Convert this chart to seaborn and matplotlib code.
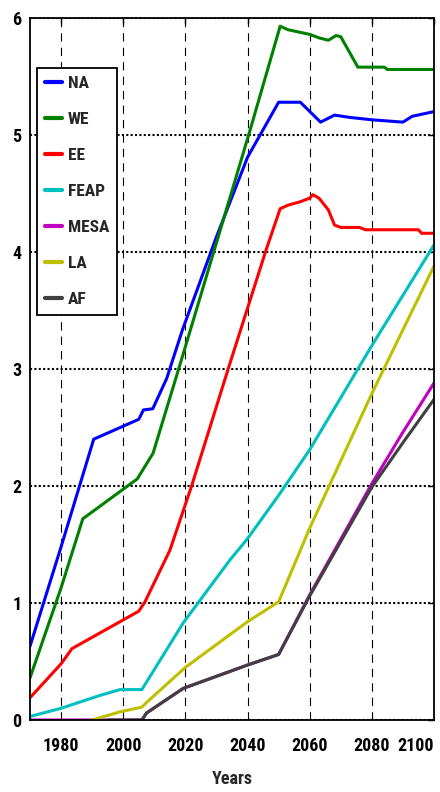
import numpy as np
import pandas as pd
import matplotlib
matplotlib.use('Agg')
import matplotlib.pyplot as plt
import seaborn as sns

# per-region curves (year breakpoints + value)
na_years = [1970, 1980, 1990.5, 2005, 2006.5, 2009.5, 2014, 2019, 2030, 2040, 2050, 2057, 2063.5, 2068, 2073, 2080, 2090, 2093, 2100]
na_vals = [0.63, 1.48, 2.40, 2.57, 2.65, 2.66, 2.92, 3.33, 4.13, 4.81, 5.28, 5.28, 5.11, 5.17, 5.15, 5.13, 5.11, 5.16, 5.20]

we_years = [1970, 1980, 1987, 2004.5, 2009.6, 2019.2, 2034.4, 2040.8, 2050.5, 2053, 2060, 2063, 2066, 2068.5, 2070, 2075.5, 2084, 2085, 2100]
we_vals = [0.36, 1.13, 1.72, 2.06, 2.28, 3.12, 4.47, 5.04, 5.93, 5.90, 5.86, 5.83, 5.81, 5.85, 5.84, 5.58, 5.58, 5.56, 5.56]

ee_years = [1970, 1980, 1983.5, 2005, 2007, 2015, 2022, 2034, 2046, 2050.5, 2053, 2057, 2060, 2061, 2063, 2066, 2068, 2070, 2076, 2078, 2095, 2096, 2100]
ee_vals = [0.19, 0.48, 0.61, 0.93, 1.01, 1.45, 2.00, 3.02, 4.02, 4.37, 4.40, 4.43, 4.46, 4.49, 4.46, 4.36, 4.23, 4.21, 4.21, 4.19, 4.19, 4.16, 4.16]

feap_years = [1970, 1980, 1992.5, 1999, 2006, 2019.3, 2034.4, 2040, 2050, 2060, 2080, 2100]
feap_vals = [0.03, 0.10, 0.21, 0.26, 0.26, 0.83, 1.37, 1.55, 1.92, 2.31, 3.20, 4.06]

mesa_years = [1970, 2006, 2007.5, 2019.3, 2040, 2050, 2060, 2080, 2090, 2100]
mesa_vals = [0.0, 0.0, 0.06, 0.27, 0.47, 0.56, 1.07, 2.02, 2.46, 2.88]

la_years = [1990, 1999, 2006, 2007.5, 2020, 2040, 2050, 2060, 2080, 2100]
la_vals = [0.0, 0.07, 0.11, 0.15, 0.45, 0.84, 1.01, 1.64, 2.79, 3.88]

af_years = [1995, 2006, 2007.5, 2019.3, 2040, 2050, 2060, 2080, 2090, 2100]
af_vals = [0.0, 0.0, 0.06, 0.27, 0.47, 0.56, 1.06, 1.99, 2.37, 2.74]

regions = ['NA', 'WE', 'EE', 'FEAP', 'MESA', 'LA', 'AF']
colors = ['#0000ff', '#008000', '#ff0000', '#00bfbf', '#bf00bf', '#bfbf00', '#404040']
x_ticks = [1980, 2000, 2020, 2040, 2060, 2080, 2100]
y_ticks = [0, 1, 2, 3, 4, 5, 6]

series = {
    'NA': (na_years, na_vals), 'WE': (we_years, we_vals), 'EE': (ee_years, ee_vals),
    'FEAP': (feap_years, feap_vals), 'MESA': (mesa_years, mesa_vals),
    'LA': (la_years, la_vals), 'AF': (af_years, af_vals),
}
df = pd.concat(
    [pd.DataFrame({'year': yrs, 'value': vals, 'region': name}) for name, (yrs, vals) in series.items()],
    ignore_index=True,
)

sns.set_style('white')
plt.rcParams['font.family'] = ['Roboto Condensed', 'Liberation Sans Narrow', 'DejaVu Sans']
plt.rcParams['font.weight'] = 'bold'
plt.rcParams['font.stretch'] = 'condensed'

fig = plt.figure(figsize=(4.4, 7.92), dpi=100)
ax = fig.add_axes([30 / 440, 72 / 792, 404 / 440, 702 / 792])

sns.lineplot(data=df, x='year', y='value', hue='region', hue_order=regions,
             palette=dict(zip(regions, colors)), linewidth=2.2, ax=ax,
             estimator=None, sort=False)

ax.set_xlim(1970, 2100)
ax.set_ylim(0, 6)
ax.set_xticks(x_ticks)
ax.set_yticks(y_ticks)
ax.set_xlabel('Years', fontsize=13, fontweight='bold', labelpad=11)
ax.set_ylabel('')

ax.xaxis.grid(True, color='black', linestyle=(0, (7.5, 5.5)), linewidth=0.8)
ax.yaxis.grid(True, color='black', linestyle=(0, (1, 1.1)), linewidth=1.5)
ax.tick_params(axis='both', direction='in', length=4, width=1, top=True, right=True,
               labelsize=13, colors='black')
ax.tick_params(axis='x', pad=12)
ax.tick_params(axis='y', pad=6)
for s in ax.spines.values():
    s.set_color('black')
    s.set_linewidth(1.3)

# last year label sits on the figure edge, pull it inside
ax.get_xticklabels()[-1].set_horizontalalignment('right')

handles, labels = ax.get_legend_handles_labels()
leg = ax.legend(handles, labels, loc='upper left', bbox_to_anchor=(0.017, 0.929),
                borderaxespad=0, fontsize=12.5, frameon=True, fancybox=False,
                edgecolor='black', framealpha=1, labelspacing=1.2,
                handlelength=1.0, handletextpad=0.35, borderpad=0.45)
leg.get_frame().set_linewidth(1.3)
for h in leg.get_lines():
    h.set_linewidth(3)

fig.savefig('out.png', dpi=100)
